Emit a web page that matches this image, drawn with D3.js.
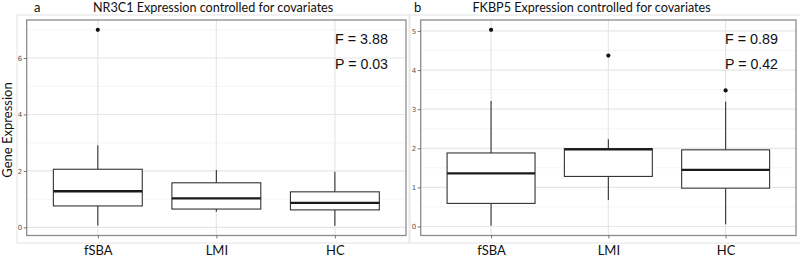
<!DOCTYPE html>
<html><head><meta charset="utf-8">
<script src="https://cdn.jsdelivr.net/npm/d3@7"></script>
<style>body{margin:0;background:#fff}svg{display:block}</style>
</head><body>
<svg id="c" width="800" height="258"></svg>
<script>
const categories = ["fSBA", "LMI", "HC"];
// panel a: NR3C1
const nr3c1Stats = [
  {lo: 0.07, q1: 0.76, med: 1.28, q3: 2.06, hi: 2.91},
  {lo: 0.55, q1: 0.65, med: 1.03, q3: 1.58, hi: 2.03},
  {lo: 0.06, q1: 0.62, med: 0.87, q3: 1.26, hi: 1.97}
];
const nr3c1Outliers = [[7.0], [], []];
// panel b: FKBP5
const fkbp5Stats = [
  {lo: 0.02, q1: 0.59, med: 1.36, q3: 1.88, hi: 3.21},
  {lo: 0.68, q1: 1.28, med: 1.97, q3: 1.99, hi: 2.23},
  {lo: 0.06, q1: 0.98, med: 1.45, q3: 1.96, hi: 3.19}
];
const fkbp5Outliers = [[5.03], [4.37], [3.48]];
const nr3c1Ticks = [0, 2, 4, 6];
const nr3c1Minor = [1, 3, 5, 7];
const fkbp5Ticks = [0, 1, 2, 3, 4, 5];
const fkbp5Minor = [0.5, 1.5, 2.5, 3.5, 4.5];
const panels = [
  {letter: "a", title: "NR3C1 Expression controlled for covariates", stats: nr3c1Stats, outliers: nr3c1Outliers,
   ticks: nr3c1Ticks, minor: nr3c1Minor, F: "F = 3.88", P: "P = 0.03"},
  {letter: "b", title: "FKBP5 Expression controlled for covariates", stats: fkbp5Stats, outliers: fkbp5Outliers,
   ticks: fkbp5Ticks, minor: fkbp5Minor, F: "F = 0.89", P: "P = 0.42"}
];
const layout = [
  {x0: 26.7, x1: 406, letterX: 34, titleX: 93, statX: 335, outer: [17, 15, 392, 228]},
  {x0: 420.7, x1: 796, letterX: 414, titleX: 472.5, statX: 725, outer: [410, 15, 392, 228]}
];
const plotTop = 20, plotBottom = 235.5;
const svg = d3.select("#c");
const titleFont = "Lato, 'Open Sans', sans-serif";

panels.forEach((p, i) => {
  const L = layout[i];
  const g = svg.append("g");
  g.append("rect").attr("x", L.outer[0]).attr("y", L.outer[1]).attr("width", L.outer[2]).attr("height", L.outer[3])
    .attr("fill", "none").attr("stroke", "#e4e4e4").attr("stroke-width", 1);
  const all = [];
  p.stats.forEach((s, k) => { all.push(s.lo, s.hi); p.outliers[k].forEach(v => all.push(v)); });
  const ext = d3.extent(all);
  const pad = (ext[1] - ext[0]) * 0.05;
  const y = d3.scaleLinear().domain([ext[0] - pad, ext[1] + pad]).range([plotBottom, plotTop]);
  const step = (L.x1 - L.x0) / (categories.length - 1 + 1.2);
  const cx = d3.scalePoint().domain(categories).range([L.x0 + 0.6 * step, L.x1 - 0.6 * step]);
  const bw = 0.75 * step;
  g.selectAll(".mn").data(p.minor.filter(v => v >= y.domain()[0] && v <= y.domain()[1])).join("line")
    .attr("x1", L.x0).attr("x2", L.x1).attr("y1", d => y(d)).attr("y2", d => y(d))
    .attr("stroke", "#f2f2f2").attr("stroke-width", 0.8);
  g.selectAll(".mj").data(p.ticks).join("line")
    .attr("x1", L.x0).attr("x2", L.x1).attr("y1", d => y(d)).attr("y2", d => y(d))
    .attr("stroke", "#e6e6e6").attr("stroke-width", 1.2);
  g.selectAll(".vg").data(categories).join("line")
    .attr("x1", d => cx(d)).attr("x2", d => cx(d)).attr("y1", plotTop).attr("y2", plotBottom)
    .attr("stroke", "#e6e6e6").attr("stroke-width", 1.2);
  p.stats.forEach((s, k) => {
    const c = cx(categories[k]);
    g.append("line").attr("x1", c).attr("x2", c).attr("y1", y(s.hi)).attr("y2", y(s.q3)).attr("stroke", "#333").attr("stroke-width", 1.1);
    g.append("line").attr("x1", c).attr("x2", c).attr("y1", y(s.q1)).attr("y2", y(s.lo)).attr("stroke", "#333").attr("stroke-width", 1.1);
    g.append("rect").attr("x", c - bw / 2).attr("y", y(s.q3)).attr("width", bw).attr("height", y(s.q1) - y(s.q3))
      .attr("fill", "#fff").attr("stroke", "#333").attr("stroke-width", 1.1);
    g.append("line").attr("x1", c - bw / 2).attr("x2", c + bw / 2).attr("y1", y(s.med)).attr("y2", y(s.med))
      .attr("stroke", "#1a1a1a").attr("stroke-width", 2.3);
    p.outliers[k].forEach(v => {
      g.append("circle").attr("cx", c).attr("cy", y(v)).attr("r", 2.1).attr("fill", "#111");
    });
  });
  g.append("rect").attr("x", L.x0).attr("y", plotTop).attr("width", L.x1 - L.x0).attr("height", plotBottom - plotTop)
    .attr("fill", "none").attr("stroke", "#8c8c8c").attr("stroke-width", 1.3);
  const ya = g.append("g").attr("transform", `translate(${L.x0},0)`)
    .call(d3.axisLeft(y).tickValues(p.ticks).tickSize(3).tickPadding(1.5).tickFormat(d3.format("d")));
  ya.select(".domain").remove();
  ya.selectAll("line").attr("stroke", "#555").attr("stroke-width", 0.8);
  ya.selectAll("text").attr("font-family", "'DejaVu Sans', sans-serif").attr("font-size", 7).attr("fill", "#555");
  const xa = g.append("g").attr("transform", `translate(0,${plotBottom})`)
    .call(d3.axisBottom(cx).tickSize(3).tickPadding(7));
  xa.select(".domain").remove();
  xa.selectAll("line").attr("stroke", "#555").attr("stroke-width", 0.8);
  xa.selectAll("text").attr("font-family", titleFont).attr("font-size", 13).attr("fill", "#111");
  g.append("text").attr("x", L.letterX).attr("y", 12).text(p.letter)
    .attr("font-family", titleFont).attr("font-size", 13).attr("fill", "#111");
  g.append("text").attr("x", L.titleX).attr("y", 12).text(p.title)
    .attr("font-family", titleFont).attr("font-size", 12.6).attr("fill", "#111");
  g.append("text").attr("x", L.statX).attr("y", 43.5).text(p.F)
    .attr("textLength", 53).attr("lengthAdjust", "spacingAndGlyphs")
    .attr("font-family", "'Liberation Sans', Arial, sans-serif").attr("font-size", 15.5).attr("fill", "#111");
  g.append("text").attr("x", L.statX).attr("y", 68.5).text(p.P)
    .attr("textLength", 53).attr("lengthAdjust", "spacingAndGlyphs")
    .attr("font-family", "'Liberation Sans', Arial, sans-serif").attr("font-size", 15.5).attr("fill", "#111");
});
svg.append("text").attr("transform", "translate(12,130) rotate(-90)").attr("text-anchor", "middle")
  .text("Gene Expression").attr("font-family", titleFont).attr("font-size", 13).attr("fill", "#111");
</script>
</body></html>
